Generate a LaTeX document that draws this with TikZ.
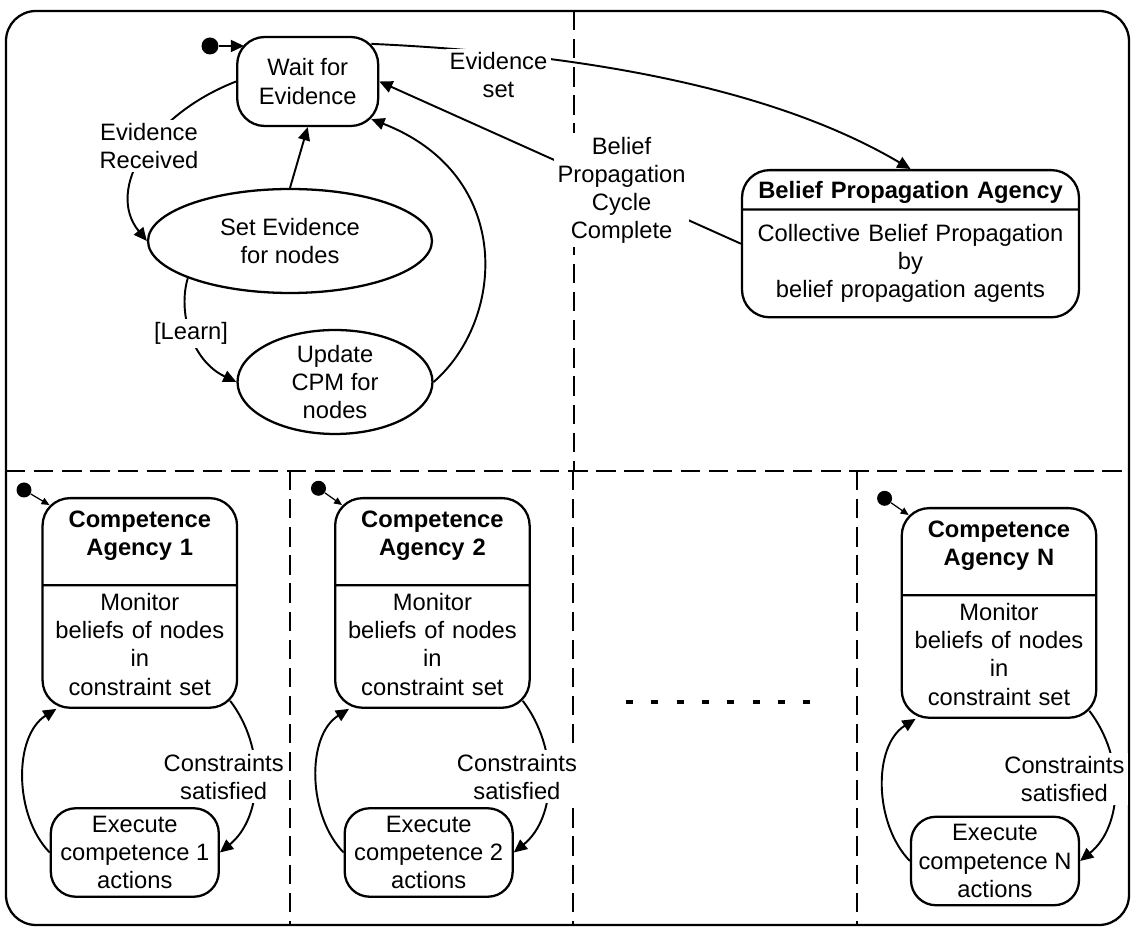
\documentclass[tikz,border=0pt]{standalone}
\usepackage{fontspec}
\setmainfont{Liberation Sans}
\usepackage{tikz}
\usetikzlibrary{arrows.meta,shapes.geometric,shapes.multipart}

\newcommand{\padtop}[1]{\rule{0pt}{#1}}
\newcommand{\padbot}[1]{\rule[-#1]{0pt}{0pt}}

\begin{document}
\begin{tikzpicture}[x=0.02cm, y=-0.02cm, font=\fontsize{13.5}{16}\selectfont,
    >={Triangle[length=7.5pt,width=6.8pt]},
    state/.style={rectangle, draw, rounded corners=0.55cm, line width=1.3pt, align=center, inner xsep=1pt, inner ysep=2.5pt},
    agency/.style={rectangle split, rectangle split parts=2, draw, rounded corners=0.55cm, line width=1.3pt, align=center, inner xsep=2pt, inner ysep=2.5pt, anchor=north},
    act/.style={ellipse, draw, line width=1.3pt, align=center, inner sep=-2pt},
    initdot/.style={circle, fill, inner sep=0pt, minimum size=0.3cm},
    flow/.style={->, line width=1.1pt},
    initflow/.style={-{Triangle[length=4.5pt,width=4pt]}, line width=0.7pt},
    lbl/.style={fill=white, inner sep=2pt, align=center},
    lane/.style={line width=1.1pt, dash pattern=on 11pt off 5pt}]
    \useasboundingbox (0,0) rectangle (1134,928);

    % swimlanes
    \draw[line width=1.3pt, rounded corners=0.6cm] (6,11) rectangle (1129,925);
    \draw[lane] (6,471) -- (1129,471);
    \draw[lane] (574,11) -- (574,471);
    \draw[lane] (290,471) -- (290,925);
    \draw[lane] (573,471) -- (573,925);
    \draw[lane] (857,471) -- (857,925);

    % evidence handling
    \node[initdot, minimum size=0.34cm] (wdot) at (210,46) {};
    \node[state, minimum width=2.82cm, minimum height=1.78cm] (wait) at (307.7,81.5) {Wait for\\Evidence};
    \node[act, minimum width=5.68cm, minimum height=2.08cm] (setev) at (290,241) {Set Evidence\\for nodes};
    \node[act, minimum width=3.9cm, minimum height=2.08cm] (update) at (335,382) {Update\\CPM for\\nodes};
    \node[agency, text width=6.6cm] (bpa) at (910.5,169) {\padtop{13.2pt}\textbf{Belief Propagation Agency}\nodepart{two}\padtop{15.2pt}Collective Belief Propagation\\by\\belief propagation agents\padbot{7.9pt}};

    % competence agencies
    \node[initdot] (dot1) at (24,490) {};
    \node[agency, text width=3.75cm] (ag1) at (139.8,497) {\padtop{13.4pt}\textbf{Competence}\\\textbf{Agency 1}\padbot{13.9pt}\nodepart{two}\padtop{11.3pt}Monitor\\beliefs of nodes\\in\\constraint set\padbot{4.1pt}};
    \node[state, rounded corners=0.5cm, minimum width=3.36cm, minimum height=1.77cm] (exe1) at (134.8,852.5) {Execute\\competence 1\\actions};

    \node[initdot] (dot2) at (318.5,488.3) {};
    \node[agency, text width=3.75cm] (ag2) at (432.4,497) {\padtop{13.4pt}\textbf{Competence}\\\textbf{Agency 2}\padbot{13.9pt}\nodepart{two}\padtop{11.3pt}Monitor\\beliefs of nodes\\in\\constraint set\padbot{4.1pt}};
    \node[state, rounded corners=0.5cm, minimum width=3.36cm, minimum height=1.77cm] (exe2) at (428.7,852.5) {Execute\\competence 2\\actions};

    \node[initdot] (dotn) at (884.6,498.3) {};
    \node[agency, text width=3.75cm] (agn) at (999,507) {\padtop{13.4pt}\textbf{Competence}\\\textbf{Agency N}\padbot{13.9pt}\nodepart{two}\padtop{11.3pt}Monitor\\beliefs of nodes\\in\\constraint set\padbot{4.1pt}};
    \node[state, rounded corners=0.5cm, minimum width=3.36cm, minimum height=1.77cm] (exen) at (995,861) {Execute\\competence N\\actions};

    \draw[line width=2.3pt, dash pattern=on 4pt off 10.4pt] (626,702) -- (811,702);

    % transitions
    \draw[flow] (wdot) -- ([xshift=0.16cm]wdot -| wait.west);
    \draw[flow] (wait.west) .. controls (150,115) and (105,190) .. node[lbl, pos=0.45] (lrecv) {Evidence\\Received} (setev.west);
    \draw[flow] (setev.north) -- (wait.south);
    \draw[flow] (setev.200) .. controls (178,310) and (190,360) .. node[lbl] (llearn) {[Learn]} (update.west);
    \draw[flow] (update.east) .. controls (505,320) and (515,175) .. ([xshift=-0.16cm,yshift=0.16cm]wait.south east);
    \draw[flow] ([xshift=-0.16cm,yshift=-0.16cm]wait.north east) .. controls (550,52) and (760,80) .. node[lbl, pos=0.23, anchor=north, yshift=0.1cm] (levset) {Evidence\\set} (bpa.north);
    \draw[flow] (bpa.west) -- node[lbl, pos=0.33] (lcycle) {Belief\\Propagation\\Cycle\\Complete} (wait.east);

    \draw[initflow] (dot1) -- ([xshift=0.16cm,yshift=-0.16cm]ag1.north west);
    \draw[flow] ([xshift=-0.16cm,yshift=0.16cm]ag1.south east) .. controls +(36,47) and +(43,-35) .. node[lbl, xshift=-0.62cm, yshift=0.09cm] (lsat1) {Constraints\\satisfied} (exe1.east);
    \draw[flow] (exe1.west) .. controls +(-36,-37) and +(-43,27) .. ([xshift=0.3cm]ag1.south west);

    \draw[initflow] (dot2) -- ([xshift=0.16cm,yshift=-0.16cm]ag2.north west);
    \draw[flow] ([xshift=-0.16cm,yshift=0.16cm]ag2.south east) .. controls +(36,47) and +(43,-35) .. node[lbl, xshift=-0.62cm, yshift=0.09cm] (lsat2) {Constraints\\satisfied} (exe2.east);
    \draw[flow] (exe2.west) .. controls +(-36,-37) and +(-43,27) .. ([xshift=0.3cm]ag2.south west);

    \draw[initflow] (dotn) -- ([xshift=0.16cm,yshift=-0.16cm]agn.north west);
    \draw[flow] ([xshift=-0.16cm,yshift=0.16cm]agn.south east) .. controls +(36,47) and +(43,-35) .. node[lbl, xshift=-1cm, yshift=0.23cm] (lsatn) {Constraints\\satisfied} (exen.east);
    \draw[flow] (exen.west) .. controls +(-36,-37) and +(-43,27) .. ([xshift=0.3cm]agn.south west);
\end{tikzpicture}
\end{document}
